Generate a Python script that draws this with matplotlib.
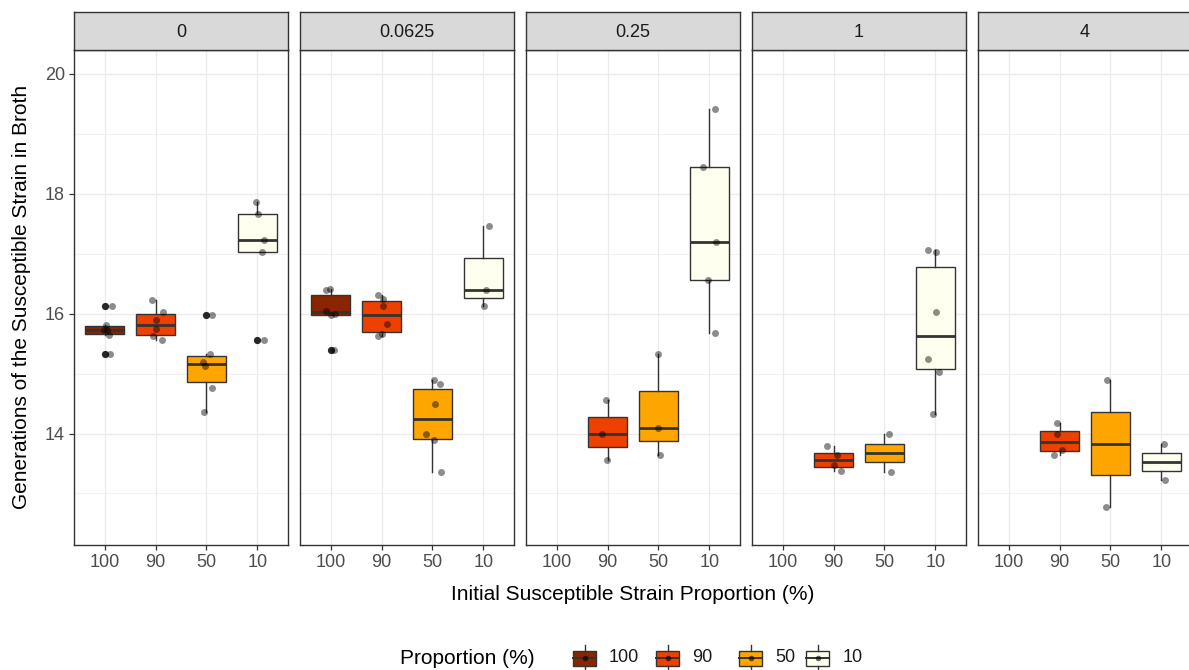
import matplotlib as mpl
import matplotlib.pyplot as plt
from matplotlib.patches import Rectangle
import numpy as np

mpl.rcParams['font.family'] = ['Liberation Sans', 'DejaVu Sans']

# Antibiotic dose per facet, proportion groups on the x axis
doses = ['0', '0.0625', '0.25', '1', '4']
proportions = ['100', '90', '50', '10']
prop_colors = ['#8B2500', '#EE4000', '#FFA500', '#FFFFF0']

# Generations of the susceptible strain, one list per proportion group (100, 90, 50, 10)
gen_dose_0 = [
    [15.32, 15.64, 15.72, 15.73, 15.81, 16.13],
    [15.56, 15.62, 15.74, 15.89, 16.03, 16.23],
    [14.36, 14.76, 15.13, 15.19, 15.32, 15.98],
    [15.56, 17.03, 17.23, 17.66, 17.87],
]
gen_dose_0_0625 = [
    [15.40, 15.98, 15.99, 16.05, 16.39, 16.41],
    [15.63, 15.66, 15.83, 16.12, 16.24, 16.31],
    [13.36, 13.89, 13.99, 14.50, 14.82, 14.89],
    [16.13, 16.39, 17.47],
]
gen_dose_0_25 = [
    [],
    [13.56, 13.99, 14.56],
    [13.65, 14.10, 15.32],
    [15.68, 16.56, 17.20, 18.45, 19.42],
]
gen_dose_1 = [
    [],
    [13.38, 13.47, 13.64, 13.79],
    [13.36, 13.99],
    [14.33, 15.03, 15.24, 16.03, 17.03, 17.07],
]
gen_dose_4 = [
    [],
    [13.65, 13.73, 13.99, 14.18],
    [12.77, 14.89],
    [13.23, 13.83],
]
generations = [gen_dose_0, gen_dose_0_0625, gen_dose_0_25, gen_dose_1, gen_dose_4]

# horizontal jitter of the raw points (x-axis units), same layout as above
jit_dose_0 = [
    [0.10, 0.08, -0.02, 0.05, 0.03, 0.15],
    [0.12, -0.05, 0.00, 0.01, 0.15, -0.07],
    [-0.05, 0.10, -0.02, -0.07, 0.07, 0.10],
    [0.13, 0.08, 0.13, 0.02, -0.03],
]
jit_dose_0_0625 = [
    [0.07, 0.00, 0.08, -0.08, -0.08, -0.01],
    [-0.07, 0.00, 0.10, 0.03, 0.03, -0.07],
    [0.17, 0.03, -0.12, 0.05, 0.14, 0.03],
    [0.02, 0.05, 0.10],
]
jit_dose_0_25 = [
    [],
    [-0.01, -0.11, -0.03],
    [0.03, 0.00, 0.00],
    [0.10, -0.03, 0.12, -0.12, 0.10],
]
jit_dose_1 = [
    [],
    [0.14, 0.00, 0.07, -0.12],
    [0.12, 0.08],
    [-0.05, 0.07, -0.14, 0.01, 0.01, -0.14],
]
jit_dose_4 = [
    [],
    [-0.10, 0.05, -0.05, -0.05],
    [-0.09, -0.07],
    [0.07, 0.05],
]
jitters = [jit_dose_0, jit_dose_0_0625, jit_dose_0_25, jit_dose_1, jit_dose_4]

W, H = 1189, 670
EDGE = '#333333'
GRID = '#EBEBEB'
TXT = '#4D4D4D'

fig = plt.figure(figsize=(W / 100, H / 100), dpi=100)


def px_rect(x0, y0, x1, y1):
    """Figure-fraction rectangle from pixel corners (top-left origin)."""
    return [x0 / W, 1 - y1 / H, (x1 - x0) / W, (y1 - y0) / H]


panel_left = [74, 300, 526, 752, 978]
panel_w = 214
strip_top, panel_top, panel_bot = 12, 50, 545

for p, dose in enumerate(doses):
    x0 = panel_left[p]
    ax = fig.add_axes(px_rect(x0, panel_top, x0 + panel_w, panel_bot))
    sx = fig.add_axes(px_rect(x0, strip_top, x0 + panel_w, panel_top))

    # strip
    sx.set_facecolor('#D9D9D9')
    sx.set_xticks([])
    sx.set_yticks([])
    for s in sx.spines.values():
        s.set_color(EDGE)
        s.set_linewidth(1.0)
    sx.text(0.5, 0.47, dose, ha='center', va='center', fontsize=13,
            color='#1A1A1A', transform=sx.transAxes)

    # boxes + raw points
    for i, vals in enumerate(generations[p]):
        if not vals:
            continue
        pos = i + 1
        ax.boxplot([vals], positions=[pos], widths=0.75, whis=1.5,
                   patch_artist=True, showcaps=False, manage_ticks=False,
                   boxprops=dict(facecolor=prop_colors[i], edgecolor=EDGE, linewidth=1.0),
                   medianprops=dict(color=EDGE, linewidth=2.0),
                   whiskerprops=dict(color=EDGE, linewidth=1.0),
                   flierprops=dict(marker='o', markerfacecolor='#262626',
                                   markeredgecolor='none', markersize=5.2),
                   zorder=2)
        xs = pos + np.array(jitters[p][i])
        ax.scatter(xs, vals, s=25, color='black', alpha=0.45, linewidths=0, zorder=4)

    ax.set_xlim(0.4, 4.6)
    ax.set_ylim(12.14, 20.40)
    ax.set_xticks([1, 2, 3, 4])
    ax.set_xticklabels(proportions)
    ax.set_yticks([14, 16, 18, 20])
    ax.set_yticks([13, 15, 17, 19], minor=True)
    ax.grid(which='major', color=GRID, linewidth=0.9, zorder=0)
    ax.grid(which='minor', axis='y', color=GRID, linewidth=0.5, zorder=0)
    ax.set_axisbelow(True)
    for s in ax.spines.values():
        s.set_color(EDGE)
        s.set_linewidth(1.0)
    ax.tick_params(which='major', length=3.5, width=0.9, color=EDGE,
                   labelsize=13, labelcolor=TXT, pad=3)
    ax.tick_params(which='minor', length=0)
    if p > 0:
        ax.tick_params(axis='y', which='major', length=0, labelleft=False)

# axis titles
fig.text(633 / W, 1 - 595 / H, 'Initial Susceptible Strain Proportion (%)',
         ha='center', va='center', fontsize=15)
fig.text(22 / W, 1 - 297 / H, 'Generations of the Susceptible Strain in Broth',
         ha='center', va='center', rotation=90, fontsize=15)

# legend drawn in pixel space
lg = fig.add_axes([0, 0, 1, 1], zorder=10)
lg.set_xlim(0, W)
lg.set_ylim(H, 0)
lg.axis('off')
lg.text(400, 658, 'Proportion (%)', ha='left', va='center', fontsize=15)
key_x = [573, 656, 739, 806]
lab_x = [609, 692, 775, 843]
kw, kh, ky = 23, 15, 658
for kx, lx, lab, col in zip(key_x, lab_x, proportions, prop_colors):
    cx = kx + kw / 2
    lg.plot([cx, cx], [ky - 13, ky - kh / 2], color=EDGE, lw=1.0)
    lg.plot([cx, cx], [ky + kh / 2, ky + 13], color=EDGE, lw=1.0)
    lg.add_patch(Rectangle((kx, ky - kh / 2), kw, kh, facecolor=col,
                           edgecolor=EDGE, lw=1.0))
    lg.plot([kx, kx + kw], [ky, ky], color=EDGE, lw=1.4)
    lg.scatter([cx], [ky], s=16, color='black', alpha=0.6, linewidths=0, zorder=5)
    lg.text(lx, ky, lab, ha='left', va='center', fontsize=13, color='#1A1A1A')

fig.savefig('out.png', dpi=100)
